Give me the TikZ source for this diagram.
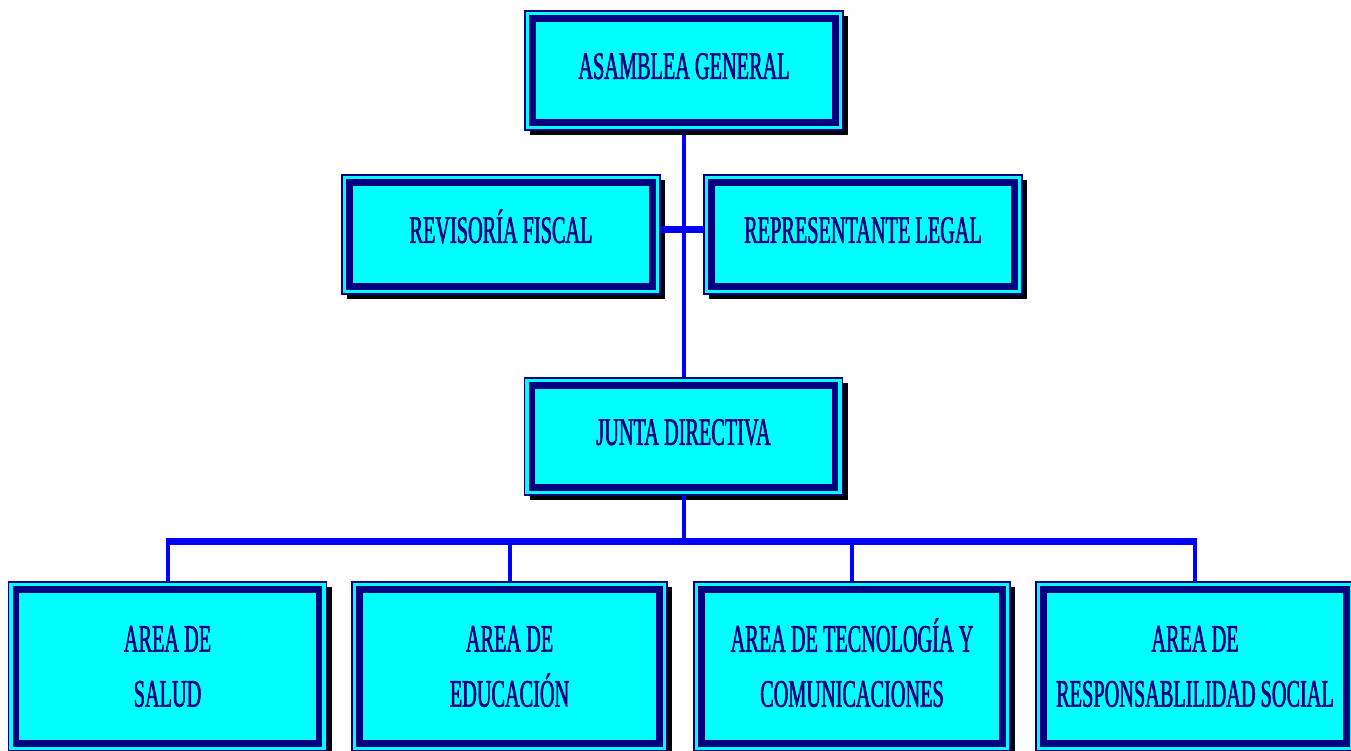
\documentclass[tikz,border=0pt]{standalone}
\usepackage{fontspec}
\usetikzlibrary{shadows,calc}
\newfontfamily\orgfont[FakeStretch=0.52,FakeBold=1.4]{Liberation Serif}
\definecolor{boxcyan}{RGB}{0,255,255}
\definecolor{boxnavy}{RGB}{0,0,128}
\definecolor{linkblue}{RGB}{0,0,255}
\begin{document}
\begin{tikzpicture}[x=1pt,y=-1pt,
  orgbox/.style={draw=boxnavy, line width=1.5pt, fill=boxcyan,
    text=boxnavy, align=center, inner sep=0pt,
    font=\orgfont\fontsize{39}{55}\selectfont,
    minimum width=318pt, minimum height=119pt,
    drop shadow={shadow xshift=5pt, shadow yshift=-5pt, fill=black, opacity=1},
    path picture={\draw[boxnavy, line width=6.5pt]
      ($(path picture bounding box.south west)+(7.5pt,7.5pt)$) rectangle
      ($(path picture bounding box.north east)-(7.5pt,7.5pt)$);}},
  onelinebox/.style={orgbox, text depth=9pt},
  tallbox/.style={orgbox, minimum height=169pt},
  link/.style={draw=linkblue, line width=4pt},
  buslink/.style={draw=linkblue, line width=7pt}]
\useasboundingbox (0,0) rectangle (1351,751);
\fill[white] (0,0) rectangle (1351,751);

% connectors, drawn first so the boxes sit on top
\coordinate (top) at (684,130);
\coordinate (mid) at (684,378);
\draw[link] (top) -- (mid);

% boxes
\node[onelinebox] (asam) at (684,70.5) {ASAMBLEA GENERAL};
\node[onelinebox] (rev) at (501,234.5) {REVISOR\smash{Í}A FISCAL};
\node[onelinebox] (rep) at (863,234.5) {REPRESENTANTE LEGAL};
\node[onelinebox, minimum height=117pt] (junta) at (683.5,436.5) {JUNTA DIRECTIVA};
\node[tallbox] (salud) at (167.5,666.5) {AREA DE\\SALUD};
\node[tallbox, minimum width=315pt] (edu) at (509.5,666.5) {AREA DE\\EDUCACIÓN};
\node[tallbox, minimum width=316pt] (tec) at (852,666.5) {AREA DE TECNOLOG\smash{Í}A Y\\COMUNICACIONES};
\node[tallbox] (soc) at (1195,666.5) {AREA DE\\RESPONSABLILIDAD SOCIAL};

% side link between the two advisory boxes
\draw[buslink] ([yshift=4.5pt]rev.east) -- ([yshift=4.5pt]rep.west);

% from the board down to the area boxes
\draw[link] (junta.south) -- ++(0,46) coordinate (hub);
\draw[link] (salud.north) -- (salud.north |- hub);
\draw[link] (edu.north) -- (edu.north |- hub);
\draw[link] (tec.north) -- (tec.north |- hub);
\draw[link] (soc.north) -- (soc.north |- hub);
\draw[buslink] ([xshift=-2pt]salud.north |- hub) -- ([xshift=2pt]soc.north |- hub);
\end{tikzpicture}
\end{document}
